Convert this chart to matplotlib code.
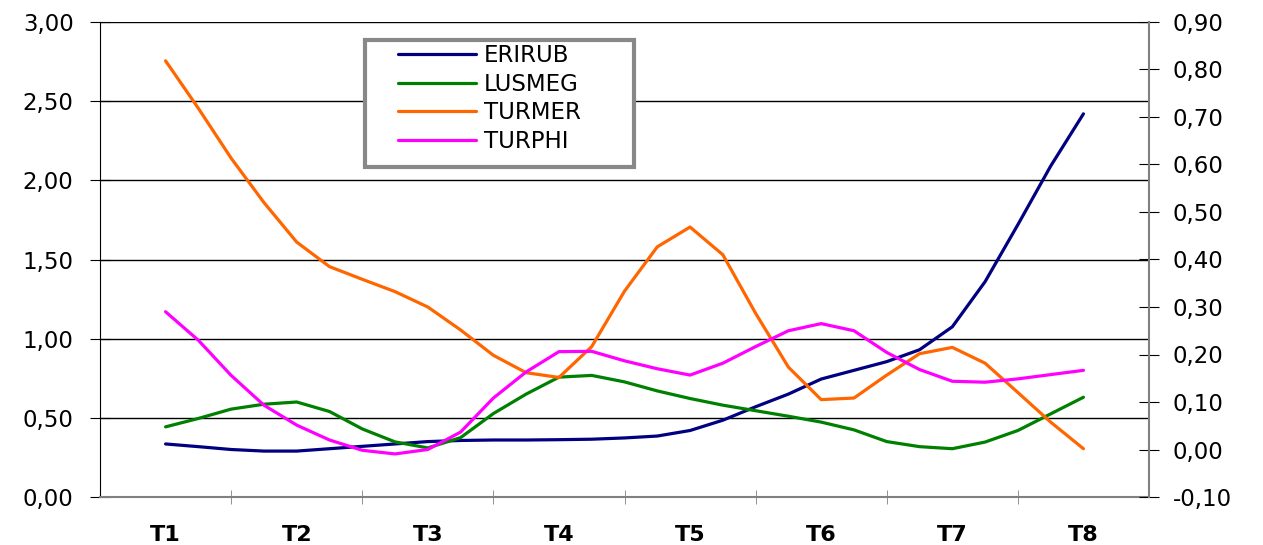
import matplotlib.pyplot as plt
from matplotlib.patches import Rectangle
from matplotlib.ticker import FixedLocator, FuncFormatter, MultipleLocator

# categories and readings (4 readings per interval between T labels)
categories = ["T1", "T2", "T3", "T4", "T5", "T6", "T7", "T8"]
steps_per_cat = 4

erirub = [0.335, 0.318, 0.300, 0.290, 0.290, 0.305, 0.320, 0.335,
          0.350, 0.357, 0.360, 0.360, 0.362, 0.365, 0.373, 0.385,
          0.420, 0.485, 0.570, 0.650, 0.745, 0.800, 0.855, 0.930,
          1.075, 1.360, 1.720, 2.090, 2.420]
lusmeg = [0.443, 0.496, 0.555, 0.586, 0.600, 0.540, 0.430, 0.348,
          0.310, 0.375, 0.527, 0.650, 0.757, 0.768, 0.727, 0.670,
          0.622, 0.580, 0.545, 0.510, 0.473, 0.424, 0.350, 0.318,
          0.305, 0.347, 0.420, 0.525, 0.630]
turmer = [2.755, 2.455, 2.140, 1.860, 1.610, 1.455, 1.375, 1.297,
          1.200, 1.055, 0.895, 0.785, 0.755, 0.950, 1.300, 1.580,
          1.705, 1.530, 1.160, 0.820, 0.615, 0.625, 0.770, 0.905,
          0.945, 0.845, 0.660, 0.473, 0.305]
turphi = [1.170, 0.990, 0.768, 0.580, 0.454, 0.360, 0.295, 0.272,
          0.300, 0.410, 0.625, 0.790, 0.918, 0.920, 0.860, 0.810,
          0.770, 0.845, 0.950, 1.050, 1.095, 1.050, 0.913, 0.805,
          0.731, 0.725, 0.746, 0.773, 0.800]

series = [("ERIRUB", erirub, "#000080"),
          ("LUSMEG", lusmeg, "#008000"),
          ("TURMER", turmer, "#FF6600"),
          ("TURPHI", turphi, "#FF00FF")]

x = [i / steps_per_cat for i in range(len(erirub))]

W, H = 1263, 545
fig = plt.figure(figsize=(W / 100, H / 100), dpi=100)
ax = fig.add_axes([100 / W, 1 - 497 / H, 1049 / W, 475 / H])

for name, vals, col in series:
    ax.plot(x, vals, color=col, lw=2.3, label=name, solid_capstyle="round")

ax.set_xlim(-0.5, len(categories) - 0.5)
ax.set_ylim(0, 3.0)
ax.yaxis.set_major_locator(MultipleLocator(0.5))
fmt = FuncFormatter(lambda v, p: f"{v:.2f}".replace(".", ","))
ax.yaxis.set_major_formatter(fmt)
ax.grid(axis="y", color="black", lw=1)
ax.set_axisbelow(True)

ax.set_xticks(range(len(categories)))
ax.set_xticklabels(categories, fontsize=16, fontweight="heavy")
ax.tick_params(axis="x", which="major", length=0, pad=20)
ax.xaxis.set_minor_locator(FixedLocator([i + 0.5 for i in range(len(categories) - 1)]))
ax.tick_params(axis="x", which="minor", length=10, direction="inout", color="#808080")
ax.tick_params(axis="y", length=14, direction="inout", labelsize=16.5, pad=12, color="black")

ax.spines["top"].set_visible(False)
ax.spines["right"].set_visible(False)
ax.spines["left"].set_color("black")
ax.spines["bottom"].set_color("#808080")
ax.spines["bottom"].set_linewidth(1.5)

ax2 = ax.twinx()
ax2.set_ylim(-0.1, 0.9)
ax2.yaxis.set_major_locator(MultipleLocator(0.1))
ax2.yaxis.set_major_formatter(fmt)
ax2.tick_params(axis="y", length=14, direction="inout", labelsize=16.5, pad=10, color="black")
for s in ["top", "left", "bottom"]:
    ax2.spines[s].set_visible(False)
ax2.spines["right"].set_color("#808080")
ax2.spines["right"].set_linewidth(1.5)

# legend without its own frame, frame drawn as a box like the original
ax2.add_patch(Rectangle((365 / W, 1 - 167 / H), 269 / W, 127 / H,
                        transform=fig.transFigure, facecolor="white",
                        edgecolor="#888888", lw=3, zorder=4, clip_on=False))
leg = ax2.legend(*ax.get_legend_handles_labels(), loc="upper left",
                 bbox_to_anchor=((398 - 100) / 1049, (497 - 44) / 475), borderaxespad=0,
                 fontsize=16.5, handlelength=3.4, handletextpad=0.35, labelspacing=0.25,
                 borderpad=0, frameon=False)
leg.set_zorder(5)

fig.savefig("out.png", dpi=100)
